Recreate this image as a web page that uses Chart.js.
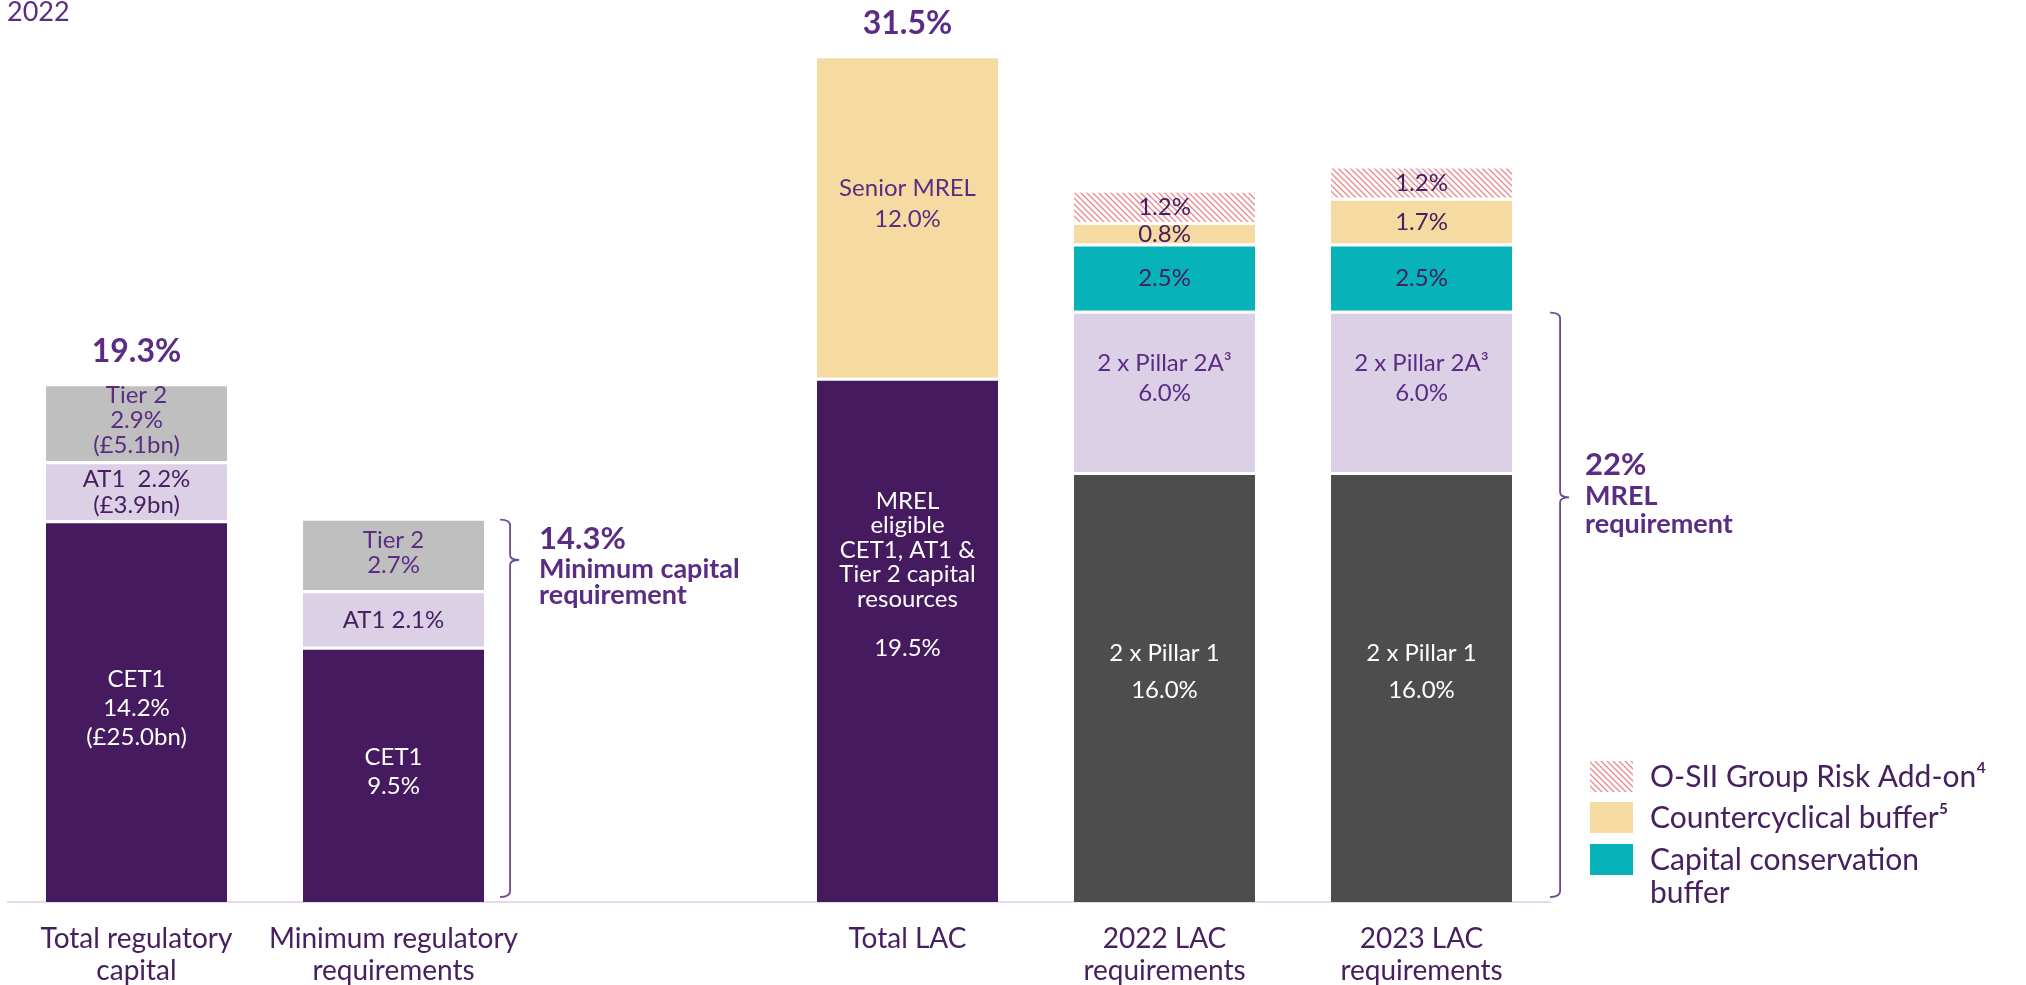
<!DOCTYPE html>
<html><head><meta charset="utf-8">
<script src="https://cdn.jsdelivr.net/npm/chart.js@4/dist/chart.umd.min.js"></script>
<style>html,body{margin:0;padding:0;background:#fff;overflow:hidden}#wrap{position:relative;width:2026px;height:985px}</style>
</head><body><div id="wrap"><canvas id="c" width="2026" height="985"></canvas></div>
<script>
// ---------- DATA ----------
const chartTitle = "2022";
const categories = [["Total regulatory","capital"],["Minimum regulatory","requirements"],"",["Total LAC"],["2022 LAC","requirements"],["2023 LAC","requirements"]];
const cet1        = [14.2, 9.5, null, null, null, null];
const at1         = [2.2, 2.1, null, null, null, null];
const tier2       = [2.9, 2.7, null, null, null, null];
const mrelEligible= [null, null, null, 19.5, null, null];
const seniorMrel  = [null, null, null, 12.0, null, null];
const pillar1x2   = [null, null, null, null, 16.0, 16.0];
const pillar2Ax2  = [null, null, null, null, 6.0, 6.0];
const consBuffer  = [null, null, null, null, 2.5, 2.5];
const ccyBuffer   = [null, null, null, null, 0.8, 1.7];
const osiiAddOn   = [null, null, null, null, 1.2, 1.2];

const cet1Text    = [["CET1","14.2%","(£25.0bn)"], ["CET1","9.5%"], null, null, null, null];
const at1Text     = [["AT1  2.2%","(£3.9bn)"], ["AT1 2.1%"], null, null, null, null];
const tier2Text   = [["Tier 2","2.9%","(£5.1bn)"], ["Tier 2","2.7%"], null, null, null, null];
const mrelText    = [null, null, null, ["MREL","eligible","CET1, AT1 &","Tier 2 capital","resources","","19.5%"], null, null];
const seniorText  = [null, null, null, ["Senior MREL","12.0%"], null, null];
const p1Text      = [null, null, null, null, ["2 x Pillar 1","16.0%"], ["2 x Pillar 1","16.0%"]];
const p2aText     = [null, null, null, null, ["2 x Pillar 2A\u00B3","6.0%"], ["2 x Pillar 2A\u00B3","6.0%"]];
const consText    = [null, null, null, null, ["2.5%"], ["2.5%"]];
const ccyText     = [null, null, null, null, ["0.8%"], ["1.7%"]];
const osiiText    = [null, null, null, null, ["1.2%"], ["1.2%"]];

const totalLabels = ["19.3%", null, null, "31.5%", null, null];

const bracketBars   = [1, 5];
const bracketValues = [14.3, 22];
const bracketTexts  = [["14.3%","Minimum capital","requirement"], ["22%","MREL","requirement"]];

const legendNames = [["O-SII Group Risk Add-on\u2074"], ["Countercyclical buffer\u2075"], ["Capital conservation","buffer"]];

// ---------- STYLE ----------
const C = {
  purple:'#461a5e', gray:'#bfbfbf', lav:'#dbd0e6', yellow:'#f5dba1', teal:'#07b2b8', dark:'#4d4d4d',
  hatch:'#ec8d93', text:'#46205f', accent:'#5b2c83', axis:'#e8d8f0', bracket:'#6b4c8c'
};
const FONT = 'Lato, "Open Sans", sans-serif';

function makeHatch(){
  const s = 6, cv = document.createElement('canvas'); cv.width = s; cv.height = s;
  const g = cv.getContext('2d');
  g.fillStyle = '#fff'; g.fillRect(0,0,s,s);
  g.strokeStyle = C.hatch; g.lineWidth = 1.4;
  g.beginPath();
  g.moveTo(0,0); g.lineTo(s,s);
  g.moveTo(-1,s-1); g.lineTo(1,s+1);
  g.moveTo(s-1,-1); g.lineTo(s+1,1);
  g.stroke();
  return document.getElementById('c').getContext('2d').createPattern(cv,'repeat');
}
const hatch = makeHatch();

function ds(label, data, color, texts, textColor, lh, shift){
  return { label, data, backgroundColor: color, borderColor:'#ffffff',
    borderWidth:{top:3,left:0,right:0,bottom:0}, borderSkipped:false,
    segTexts: texts, segColor: textColor, segLH: lh, segShift: shift };
}
const datasets = [
  ds('CET1', cet1, C.purple, cet1Text, '#ffffff', 29, -4),
  ds('AT1', at1, C.lav, at1Text, C.text, 26, 0),
  ds('Tier 2', tier2, C.gray, tier2Text, C.accent, 25, -3),
  ds('MREL eligible CET1, AT1 & Tier 2 capital resources', mrelEligible, C.purple, mrelText, '#ffffff', 24.5, -67),
  ds('Senior MREL', seniorMrel, C.yellow, seniorText, C.accent, 31, -14),
  ds('2 x Pillar 1', pillar1x2, C.dark, p1Text, '#ffffff', 37, -17),
  ds('2 x Pillar 2A', pillar2Ax2, C.lav, p2aText, C.accent, 30, -15),
  ds('Capital conservation buffer', consBuffer, C.teal, consText, C.text, 0, 0),
  ds('Countercyclical buffer', ccyBuffer, C.yellow, ccyText, C.text, 0, 0),
  ds('O-SII Group Risk Add-on', osiiAddOn, hatch, osiiText, C.text, 0, 0)
];
const legendDatasets = [9, 8, 7];
const bracketStyle = [
  { gap:26, nubFrac:0.107, textDx:29, lines:[{dy:-11,size:31},{dy:18,size:27},{dy:44,size:27}] },
  { gap:48, nubFrac:0.316, textDx:25, lines:[{dy:-22,size:31},{dy:8,size:27},{dy:36,size:27}] }
];

// ---------- PLUGINS ----------
const annot = {
  id:'annot',
  afterDatasetsDraw(chart){
    const ctx = chart.ctx, ys = chart.scales.y, area = chart.chartArea;
    ctx.save();
    // segment labels
    chart.data.datasets.forEach((d,i)=>{
      const meta = chart.getDatasetMeta(i);
      meta.data.forEach((el,j)=>{
        const lines = d.segTexts && d.segTexts[j];
        if(!lines || d.data[j]==null) return;
        const cy = (el.y + el.base)/2 + 1.5 + d.segShift;
        ctx.font = '24px ' + FONT; ctx.fillStyle = d.segColor;
        ctx.textAlign = 'center'; ctx.textBaseline = 'middle';
        lines.forEach((t,k)=> ctx.fillText(t, el.x, cy + (k-(lines.length-1)/2)*d.segLH));
      });
    });
    // stack totals
    const barEl = (j)=>{ for(let i=0;i<chart.data.datasets.length;i++){ if(chart.data.datasets[i].data[j]!=null) return chart.getDatasetMeta(i).data[j]; } return null; };
    const stackSum = (j)=> chart.data.datasets.reduce((s,d)=> s + (d.data[j]||0), 0);
    totalLabels.forEach((t,j)=>{
      if(!t) return;
      const el = barEl(j); const top = ys.getPixelForValue(stackSum(j));
      ctx.font = 'bold 32px ' + FONT; ctx.fillStyle = C.accent; ctx.textAlign='center'; ctx.textBaseline='alphabetic';
      ctx.fillText(t, el.x, top - 21);
    });
    // brackets
    bracketBars.forEach((b,k)=>{
      const el = barEl(b), st = bracketStyle[k];
      const x = el.x + el.width/2 + st.gap;
      const yTop = ys.getPixelForValue(bracketValues[k]) + 2, yBot = ys.getPixelForValue(0) - 5;
      const yNub = yTop + (yBot - yTop)*st.nubFrac;
      ctx.strokeStyle = C.bracket; ctx.lineWidth = 1.8;
      ctx.beginPath();
      ctx.moveTo(x-10, yTop); ctx.quadraticCurveTo(x, yTop, x, yTop+6);
      ctx.lineTo(x, yNub-5); ctx.quadraticCurveTo(x, yNub, x+9, yNub);
      ctx.moveTo(x+9, yNub); ctx.quadraticCurveTo(x, yNub, x, yNub+5);
      ctx.lineTo(x, yBot-6); ctx.quadraticCurveTo(x, yBot, x-10, yBot);
      ctx.stroke();
      ctx.fillStyle = C.accent; ctx.textAlign='left'; ctx.textBaseline='alphabetic';
      bracketTexts[k].forEach((t,n)=>{
        const L = st.lines[n];
        ctx.font = 'bold ' + L.size + 'px ' + FONT;
        ctx.fillText(t, x + st.textDx, yNub + L.dy);
      });
    });
    // title
    ctx.font = '27px ' + FONT; ctx.fillStyle = C.accent; ctx.textAlign='left'; ctx.textBaseline='alphabetic';
    ctx.fillText(chartTitle, 7, 21);
    // legend
    const lx = area.right + 40; const rowTops = [761, 802, 844];
    legendDatasets.forEach((di,n)=>{
      const d = chart.data.datasets[di]; const top = rowTops[n];
      ctx.fillStyle = d.backgroundColor; ctx.fillRect(lx, top, 43, 31);
      ctx.font = '30px ' + FONT; ctx.fillStyle = C.text; ctx.textAlign='left'; ctx.textBaseline='middle';
      legendNames[n].forEach((t,m)=> ctx.fillText(t, lx + 60, top + 16 + m*33));
    });
    ctx.restore();
  }
};

Chart.defaults.font.family = FONT;
new Chart(document.getElementById('c'), {
  type:'bar',
  data:{ labels: categories, datasets },
  options:{
    responsive:false, animation:false,
    layout:{ padding:{ left:8, right:476, top:15, bottom:0 } },
    plugins:{ legend:{display:false}, tooltip:{enabled:false}, title:{display:false} },
    datasets:{ bar:{ categoryPercentage:1.0, barPercentage:0.705 } },
    scales:{
      x:{ stacked:true, grid:{display:false, drawTicks:false},
          border:{display:true, color:C.axis, width:2},
          ticks:{ color:C.text, font:{size:28, lineHeight:1.15}, padding:21, maxRotation:0, autoSkip:false },
          afterFit:(s)=>{ s.height = 83; } },
      y:{ stacked:true, display:false, min:0, max:33 }
    }
  },
  plugins:[annot]
});
</script></body></html>
